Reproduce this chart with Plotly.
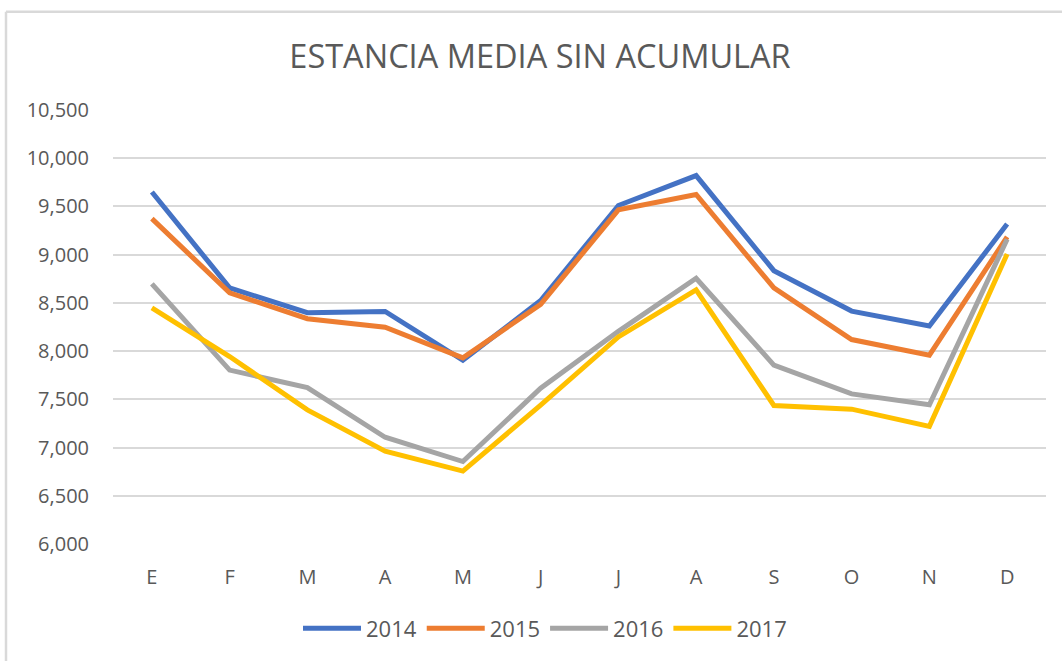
import plotly.graph_objects as go

months = ["E", "F", "M", "A", "M", "J", "J", "A", "S", "O", "N", "D"]
y2014 = [9650, 8655, 8398, 8411, 7905, 8525, 9510, 9820, 8834, 8415, 8261, 9318]
y2015 = [9374, 8604, 8336, 8247, 7930, 8485, 9465, 9624, 8655, 8120, 7958, 9184]
y2016 = [8697, 7803, 7622, 7107, 6855, 7615, 8205, 8755, 7855, 7556, 7443, 9160]
y2017 = [8449, 7944, 7391, 6962, 6756, 7440, 8147, 8635, 7436, 7398, 7220, 9006]
series_names = ["2014", "2015", "2016", "2017"]
series_values = [y2014, y2015, y2016, y2017]
colors = ["#4472C4", "#ED7D31", "#A5A5A5", "#FFC000"]
y_ticks = [6000, 6500, 7000, 7500, 8000, 8500, 9000, 9500, 10000, 10500]

xpos = list(range(len(months)))

fig = go.Figure()
for name, vals, col in zip(series_names, series_values, colors):
    fig.add_trace(go.Scatter(
        x=xpos, y=vals, name=name, mode="lines",
        line=dict(color=col, width=5),
    ))

W, H = 1062, 661
L, R, T, B = 113, 16, 110, 114
pw, ph = W - L - R, H - T - B

def px_x(p):
    return (p - L) / pw

def px_y(p):
    return (H - B - p) / ph

fig.update_layout(
    width=W, height=H,
    margin=dict(l=L, r=R, t=T, b=B),
    paper_bgcolor="white", plot_bgcolor="white",
    font=dict(family="Open Sans", color="#595959"),
    title=dict(text="ESTANCIA MEDIA SIN ACUMULAR", x=540 / W, xref="container",
               xanchor="center", y=1 - 57 / H, yref="container", yanchor="middle",
               font=dict(size=32.5, color="#595959", family="Open Sans")),
    xaxis=dict(
        tickmode="array", tickvals=xpos, ticktext=months,
        range=[-0.5, len(months) - 0.5],
        showgrid=False, zeroline=False, showline=False, ticks="",
        tickfont=dict(size=20, color="#595959"),
        ticklabelstandoff=19,
    ),
    yaxis=dict(
        range=[6000, 10500], tickvals=y_ticks, tickformat=",.0f",
        showgrid=True, gridcolor="#D9D9D9", gridwidth=1.5,
        zeroline=False, showline=False, ticks="",
        tickfont=dict(size=20, color="#595959"),
        ticklabelstandoff=23,
    ),
    legend=dict(orientation="h", x=px_x(545), xanchor="center",
                y=px_y(632), yanchor="middle",
                font=dict(size=22, color="#595959"),
                itemwidth=58, tracegroupgap=0),
    showlegend=True,
    shapes=[
        dict(type="line", xref="paper", yref="paper",
             x0=px_x(6), x1=px_x(W + 5), y0=px_y(11), y1=px_y(11),
             line=dict(color="#D9D9D9", width=2.5)),
        dict(type="line", xref="paper", yref="paper",
             x0=px_x(6), x1=px_x(6), y0=px_y(11), y1=px_y(H + 5),
             line=dict(color="#D9D9D9", width=2.5)),
    ],
)

fig.write_html("out.html", config={"displayModeBar": False},
               post_script="document.body.style.margin='0';")
